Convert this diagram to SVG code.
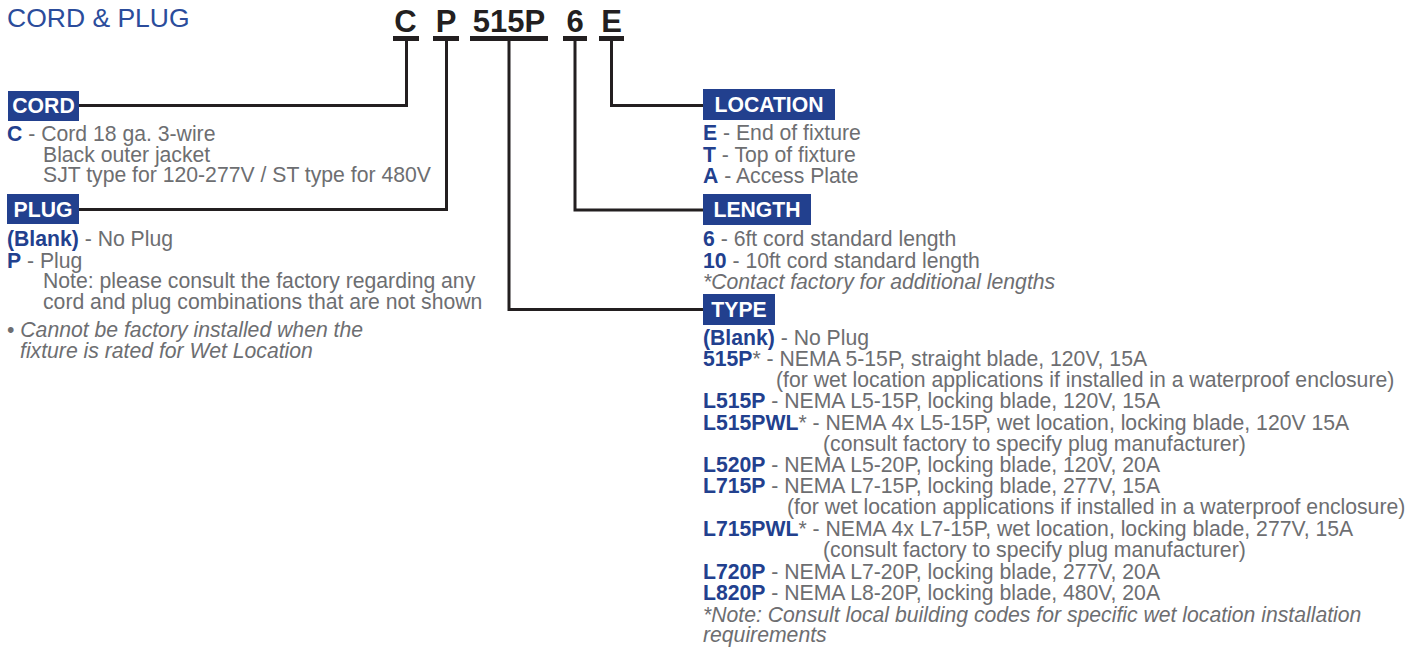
<svg xmlns="http://www.w3.org/2000/svg" width="1424" height="648" viewBox="0 0 1424 648">
<style>
text{font-family:"Liberation Sans",Arial,Helvetica,sans-serif;}
.t{font-size:21.2px;fill:#6d6e71;}
.b{font-weight:bold;fill:#22408e;}
.i{font-style:italic;}
.lab{font-size:21.2px;font-weight:bold;fill:#ffffff;text-anchor:middle;}
.box{fill:#22408e;}
.code{font-size:31px;font-weight:bold;fill:#231f20;text-anchor:middle;}
.bar{fill:#231f20;}
.ln{fill:none;stroke:#231f20;stroke-width:3;stroke-linejoin:miter;}
</style>
<rect width="1424" height="648" fill="#ffffff"/>
<text x="7" y="26.5" style="font-size:26.5px;fill:#2b4c9b">CORD &amp; PLUG</text>

<g id="code">
<text class="code" x="405.5" y="32">C</text>
<text class="code" x="446" y="32">P</text>
<text class="code" x="509" y="32">515P</text>
<text class="code" x="575" y="32">6</text>
<text class="code" x="611.5" y="32">E</text>
<rect class="bar" x="393" y="36" width="26" height="5"/>
<rect class="bar" x="433" y="36" width="26" height="5"/>
<rect class="bar" x="470" y="36" width="78" height="5"/>
<rect class="bar" x="563" y="36" width="24" height="5"/>
<rect class="bar" x="599" y="36" width="25" height="5"/>
</g>

<g id="connectors">
<polyline class="ln" points="406.5,41 406.5,105.5 79,105.5"/>
<polyline class="ln" points="446.5,41 446.5,209.5 79,209.5"/>
<polyline class="ln" points="509,41 509,309.5 703,309.5"/>
<polyline class="ln" points="575,41 575,210 703,210"/>
<polyline class="ln" points="611.5,41 611.5,105.5 703,105.5"/>
</g>

<g id="cord">
<rect class="box" x="8" y="91" width="71" height="30"/>
<text class="lab" x="43.5" y="113">CORD</text>
<text class="t" x="7" y="141"><tspan class="b">C</tspan> - Cord 18 ga. 3-wire</text>
<text class="t" x="43" y="162">Black outer jacket</text>
<text class="t" x="43" y="182">SJT type for 120-277V / ST type for 480V</text>
</g>

<g id="plug">
<rect class="box" x="7" y="194" width="72" height="30"/>
<text class="lab" x="43" y="217">PLUG</text>
<text class="t" x="7" y="246"><tspan class="b">(Blank)</tspan> - No Plug</text>
<text class="t" x="7" y="268"><tspan class="b">P</tspan> - Plug</text>
<text class="t" x="43" y="288">Note: please consult the factory regarding any</text>
<text class="t" x="43" y="309">cord and plug combinations that are not shown</text>
<text class="t" x="7" y="337">• <tspan class="i">Cannot be factory installed when the</tspan></text>
<text class="t i" x="20" y="358">fixture is rated for Wet Location</text>
</g>

<g id="location">
<rect class="box" x="703" y="89" width="132" height="31"/>
<text class="lab" x="769" y="112">LOCATION</text>
<text class="t" x="703" y="140"><tspan class="b">E</tspan> - End of fixture</text>
<text class="t" x="703" y="162"><tspan class="b">T</tspan> - Top of fixture</text>
<text class="t" x="703" y="183"><tspan class="b">A</tspan> - Access Plate</text>
</g>

<g id="length">
<rect class="box" x="703" y="194" width="108" height="31"/>
<text class="lab" x="757" y="217">LENGTH</text>
<text class="t" x="703" y="246"><tspan class="b">6</tspan> - 6ft cord standard length</text>
<text class="t" x="703" y="268"><tspan class="b">10</tspan> - 10ft cord standard length</text>
<text class="t i" x="703" y="289">*Contact factory for additional lengths</text>
</g>

<g id="type">
<rect class="box" x="703" y="294" width="72" height="31"/>
<text class="lab" x="739" y="317">TYPE</text>
<text class="t" x="703" y="345"><tspan class="b">(Blank)</tspan> - No Plug</text>
<text class="t" x="703" y="366"><tspan class="b">515P</tspan>* - NEMA 5-15P, straight blade, 120V, 15A</text>
<text class="t" x="776" y="387">(for wet location applications if installed in a waterproof enclosure)</text>
<text class="t" x="703" y="408"><tspan class="b">L515P</tspan> - NEMA L5-15P, locking blade, 120V, 15A</text>
<text class="t" x="703" y="430"><tspan class="b">L515PWL</tspan>* - NEMA 4x L5-15P, wet location, locking blade, 120V 15A</text>
<text class="t" x="823" y="451">(consult factory to specify plug manufacturer)</text>
<text class="t" x="703" y="472"><tspan class="b">L520P</tspan> - NEMA L5-20P, locking blade, 120V, 20A</text>
<text class="t" x="703" y="493"><tspan class="b">L715P</tspan> - NEMA L7-15P, locking blade, 277V, 15A</text>
<text class="t" x="787" y="514">(for wet location applications if installed in a waterproof enclosure)</text>
<text class="t" x="703" y="536"><tspan class="b">L715PWL</tspan>* - NEMA 4x L7-15P, wet location, locking blade, 277V, 15A</text>
<text class="t" x="823" y="557">(consult factory to specify plug manufacturer)</text>
<text class="t" x="703" y="579"><tspan class="b">L720P</tspan> - NEMA L7-20P, locking blade, 277V, 20A</text>
<text class="t" x="703" y="600"><tspan class="b">L820P</tspan> - NEMA L8-20P, locking blade, 480V, 20A</text>
<text class="t i" x="703" y="622">*Note: Consult local building codes for specific wet location installation</text>
<text class="t i" x="703" y="642">requirements</text>
</g>
</svg>
